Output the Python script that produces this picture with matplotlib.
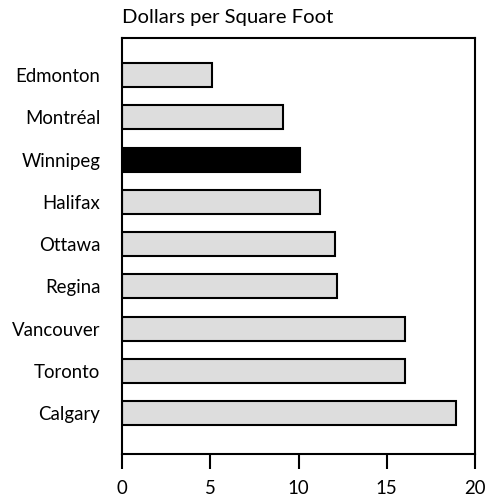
import matplotlib
matplotlib.use("Agg")
import matplotlib.pyplot as plt

cities = ["Edmonton", "Montréal", "Winnipeg", "Halifax", "Ottawa", "Regina",
          "Vancouver", "Toronto", "Calgary"]
values = [5.1, 9.1, 10.1, 11.2, 12.05, 12.2, 16.05, 16.05, 18.95]
highlight = "Winnipeg"
xticks = [0, 5, 10, 15, 20]

plt.rcParams['font.family'] = ['Lato', 'DejaVu Sans']

fig = plt.figure(figsize=(4.94, 4.98), dpi=100)
ax = fig.add_axes([122/494, 1-454/498, (475-122)/494, (454-38)/498])

colors = ["black" if c == highlight else "#dddddd" for c in cities]
ax.barh(range(len(cities)), values, height=0.57, color=colors,
        edgecolor="black", linewidth=1.5)
ax.set_yticks(range(len(cities)))
ax.set_yticklabels(cities, fontsize=13.4)
ax.set_ylim(8.97, -0.88)
ax.set_xlim(0, 20)
ax.set_xticks(xticks)
ax.set_xticklabels([str(t) for t in xticks], fontsize=13.4)
ax.tick_params(axis='y', length=0, pad=15.5)
ax.tick_params(axis='x', length=11, width=1.5, pad=8)
for s in ax.spines.values():
    s.set_linewidth(1.5)
fig.text(122/494, 1-18/498, "Dollars per Square Foot", fontsize=14.6,
         ha='left', va='center')
fig.savefig("out.png", dpi=100)
